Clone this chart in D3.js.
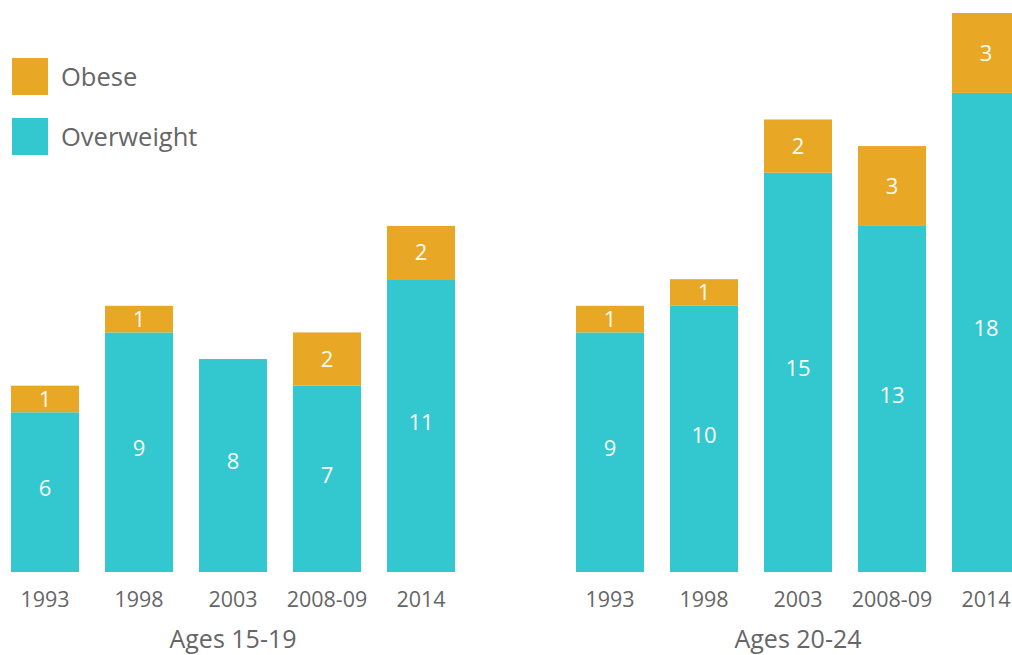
<!DOCTYPE html>
<html>
<head>
<meta charset="utf-8">
<script src="https://cdn.jsdelivr.net/npm/d3@7"></script>
<style>
  body { margin: 0; background: #fff; }
  text { font-family: "Open Sans", sans-serif; }
</style>
</head>
<body>
<script>
var years = ["1993", "1998", "2003", "2008-09", "2014"];
var groups = ["Ages 15-19", "Ages 20-24"];
var overweight15 = [6, 9, 8, 7, 11];
var obese15 = [1, 1, 0, 2, 2];
var overweight20 = [9, 10, 15, 13, 18];
var obese20 = [1, 1, 2, 3, 3];

var width = 1012, height = 655;
var teal = "#33c8d0", orange = "#e8a724";

var svg = d3.select("body").append("svg")
    .attr("width", width)
    .attr("height", height);

var y = d3.scaleLinear()
    .domain([0, 21])
    .range([572, 13]);

var ranges = [[11, 455], [576, 1020]];
var data = [
  {name: groups[0], ow: overweight15, ob: obese15},
  {name: groups[1], ow: overweight20, ob: obese20}
];

data.forEach(function(grp, gi) {
  var x = d3.scaleBand()
      .domain(years)
      .range(ranges[gi])
      .paddingInner(26 / 94)
      .paddingOuter(0);

  var g = svg.append("g");

  var rows = years.map(function(yr, i) {
    return {year: yr, ow: grp.ow[i], ob: grp.ob[i]};
  });

  g.selectAll(".ow").data(rows).enter().append("rect")
      .attr("x", function(d) { return x(d.year); })
      .attr("y", function(d) { return y(d.ow); })
      .attr("width", x.bandwidth())
      .attr("height", function(d) { return y(0) - y(d.ow); })
      .attr("fill", teal);

  g.selectAll(".ob").data(rows.filter(function(d) { return d.ob > 0; })).enter().append("rect")
      .attr("x", function(d) { return x(d.year); })
      .attr("y", function(d) { return y(d.ow + d.ob); })
      .attr("width", x.bandwidth())
      .attr("height", function(d) { return y(d.ow) - y(d.ow + d.ob); })
      .attr("fill", orange);

  g.selectAll(".owl").data(rows).enter().append("text")
      .attr("x", function(d) { return x(d.year) + x.bandwidth() / 2; })
      .attr("y", function(d) { return (y(0) + y(d.ow)) / 2 - 4; })
      .attr("dy", "0.36em")
      .attr("text-anchor", "middle")
      .attr("fill", "#fdfdf5")
      .style("font-size", "22px")
      .text(function(d) { return d.ow; });

  g.selectAll(".obl").data(rows.filter(function(d) { return d.ob > 0; })).enter().append("text")
      .attr("x", function(d) { return x(d.year) + x.bandwidth() / 2; })
      .attr("y", function(d) { return (y(d.ow) + y(d.ow + d.ob)) / 2; })
      .attr("dy", "0.36em")
      .attr("text-anchor", "middle")
      .attr("fill", "#fdfdf5")
      .style("font-size", "22px")
      .text(function(d) { return d.ob; });

  var axis = g.append("g")
      .attr("transform", "translate(0,572)")
      .call(d3.axisBottom(x).tickSize(0).tickPadding(0));
  axis.select(".domain").remove();
  axis.selectAll("text")
      .attr("y", 35)
      .attr("dy", 0)
      .attr("fill", "#666")
      .style("font-family", "'Open Sans', sans-serif")
      .style("font-size", "21.5px");

  g.append("text")
      .attr("x", (ranges[gi][0] + ranges[gi][1]) / 2)
      .attr("y", 648)
      .attr("text-anchor", "middle")
      .attr("fill", "#666")
      .style("font-size", "25px")
      .text(grp.name);
});

var legend = [{label: "Obese", color: orange, y: 58}, {label: "Overweight", color: teal, y: 118}];
var lg = svg.append("g");
lg.selectAll("rect").data(legend).enter().append("rect")
    .attr("x", 12)
    .attr("y", function(d) { return d.y; })
    .attr("width", 36)
    .attr("height", 37)
    .attr("fill", function(d) { return d.color; });
lg.selectAll("text").data(legend).enter().append("text")
    .attr("x", 61)
    .attr("y", function(d) { return d.y + 28; })
    .attr("fill", "#666")
    .style("font-size", "25.5px")
    .text(function(d) { return d.label; });
</script>
</body>
</html>
